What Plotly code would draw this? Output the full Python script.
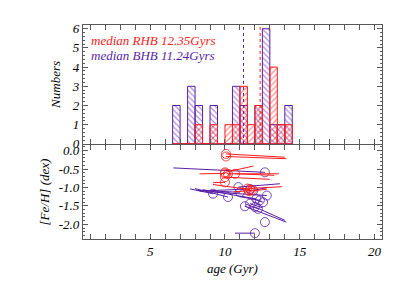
import plotly.graph_objects as go

# ---------------- data ----------------
bin_centers = [6.75, 7.25, 7.75, 8.25, 8.75, 9.25, 9.75, 10.25, 10.75, 11.25, 11.75,
               12.25, 12.75, 13.25, 13.75, 14.25]
rhb_counts = [0, 0, 0, 1, 0, 1, 0, 1, 1, 3, 1, 2, 0, 4, 1, 1]
bhb_counts = [2, 0, 3, 2, 0, 2, 0, 0, 3, 2, 0, 2, 6, 1, 1, 2]
median_rhb = 12.35
median_bhb = 11.24

# bottom panel: circle point and the end of its line
rhb_age = [10.07, 10.07, 10.0, 10.0, 10.2, 10.67, 10.0, 10.0, 11.5, 11.7, 11.6, 11.8]
rhb_feh = [-0.09, -0.16, -0.59, -0.62, -0.63, -0.63, -0.72, -0.86, -1.03, -1.06, -1.10, -1.08]
rhb_age_end = [14.0, 14.1, 11.9, 8.3, 13.6, 13.3, 13.0, 9.2, 13.8, 9.2, 12.8, 10.6]
rhb_feh_end = [-0.18, -0.22, -0.42, -0.63, -0.63, -0.67, -0.78, -0.87, -0.98, -0.92, -1.05, -1.12]

bhb_age = [12.67, 10.9, 9.2, 10.2, 11.0, 11.67, 11.9, 12.8, 12.1, 12.33, 12.55, 11.67,
           11.33, 12.0, 12.2, 12.67, 12.0]
bhb_feh = [-0.59, -0.99, -1.17, -1.26, -1.13, -1.04, -1.08, -1.22, -1.31, -1.35, -1.40, -1.44,
           -1.51, -1.53, -1.58, -1.94, -2.24]
bhb_age_end = [6.55, 13.67, 7.67, 8.0, 8.1, 8.3, 12.9, 9.0, 8.5, 11.0, 11.8, 12.5,
               14.1, 14.0, 11.4, 12.67, 10.67]
bhb_feh_end = [-0.47, -0.90, -1.04, -1.03, -1.08, -1.10, -1.00, -1.12, -1.06, -1.25, -1.30, -1.55,
               -1.94, -1.89, -1.45, -1.94, -2.24]

RED = "#ff1a1a"
PURPLE = "#5a1ea6"
AXC = "#5a5a5a"
FONT = "Times New Roman, Liberation Serif, serif"


def segs(x0, y0, x1, y1):
    xs, ys = [], []
    for a, b, c, d in zip(x0, y0, x1, y1):
        xs += [a, c, None]
        ys += [b, d, None]
    return xs, ys


fig = go.Figure()

# histogram bars
fig.add_trace(go.Bar(
    x=bin_centers, y=bhb_counts, width=0.5, xaxis="x", yaxis="y",
    marker=dict(color="rgba(0,0,0,0)", line=dict(color=PURPLE, width=1),
                pattern=dict(shape="\\", fgcolor=PURPLE, bgcolor="rgba(0,0,0,0)",
                             size=4, solidity=0.3)),
    showlegend=False))
fig.add_trace(go.Bar(
    x=bin_centers, y=rhb_counts, width=0.5, xaxis="x", yaxis="y",
    marker=dict(color="rgba(0,0,0,0)", line=dict(color=RED, width=1),
                pattern=dict(shape="/", fgcolor=RED, bgcolor="rgba(0,0,0,0)",
                             size=4, solidity=0.3)),
    showlegend=False))

# bottom panel lines + circles
xs, ys = segs(bhb_age, bhb_feh, bhb_age_end, bhb_feh_end)
fig.add_trace(go.Scatter(x=xs, y=ys, mode="lines", line=dict(color=PURPLE, width=1),
                         xaxis="x2", yaxis="y2", showlegend=False))
fig.add_trace(go.Scatter(x=bhb_age, y=bhb_feh, mode="markers",
                         marker=dict(symbol="circle-open", size=9, color=PURPLE, line=dict(width=0.8)),
                         xaxis="x2", yaxis="y2", showlegend=False))
xs, ys = segs(rhb_age, rhb_feh, rhb_age_end, rhb_feh_end)
fig.add_trace(go.Scatter(x=xs, y=ys, mode="lines", line=dict(color=RED, width=1),
                         xaxis="x2", yaxis="y2", showlegend=False))
fig.add_trace(go.Scatter(x=rhb_age, y=rhb_feh, mode="markers",
                         marker=dict(symbol="circle-open", size=9, color=RED, line=dict(width=0.8)),
                         xaxis="x2", yaxis="y2", showlegend=False))

tickfont = dict(family=FONT, size=13, color="black", style="italic")
xvals = list(range(1, 21))
xtext = [str(v) if v % 5 == 0 else "" for v in xvals]

common_x = dict(range=[0.5, 20.5], domain=[0.184, 0.919], showline=True, linecolor=AXC,
                linewidth=1, mirror="allticks", ticks="inside", ticklen=5, tickcolor=AXC,
                tickmode="array", tickvals=xvals, showgrid=False, zeroline=False,
                automargin=False)

fig.update_layout(
    width=407, height=291,
    margin=dict(l=0, r=0, t=0, b=0),
    paper_bgcolor="white", plot_bgcolor="white",
    barmode="overlay",
    font=dict(family=FONT),
    xaxis=dict(**common_x, anchor="y", showticklabels=False),
    yaxis=dict(domain=[0.533, 0.942], range=[0, 6.2], anchor="x", showline=True,
               linecolor=AXC, mirror="allticks", ticks="inside", ticklen=5, tickcolor=AXC,
               tickmode="array", tickvals=[0, 1, 2, 3, 4, 5, 6],
               minor=dict(ticks="inside", ticklen=2, dtick=0.2, tickcolor=AXC),
               showgrid=False, zeroline=False, tickfont=tickfont, automargin=False,
               title=dict(text="Numbers", font=tickfont, standoff=8)),
    xaxis2=dict(**common_x, anchor="y2", ticktext=xtext, tickfont=tickfont,
                title=dict(text="age (Gyr)", font=tickfont, standoff=6)),
    yaxis2=dict(domain=[0.206, 0.529], range=[-2.4, 0.15], anchor="x2", showline=True,
                linecolor=AXC, mirror="allticks", ticks="inside", ticklen=5, tickcolor=AXC,
                tickmode="array", tickvals=[0.0, -0.5, -1.0, -1.5, -2.0],
                ticktext=["0.0", "-0.5", "-1.0", "-1.5", "-2.0"],
                minor=dict(ticks="inside", ticklen=2, dtick=0.1, tickcolor=AXC),
                showgrid=False, zeroline=False, tickfont=tickfont, automargin=False,
                title=dict(text="[Fe/H] (dex)", font=tickfont, standoff=6)),
    shapes=[
        dict(type="line", xref="x", yref="y domain", x0=median_bhb, x1=median_bhb, y0=0, y1=1,
             line=dict(color=PURPLE, width=1, dash="dot")),
        dict(type="line", xref="x", yref="y domain", x0=median_rhb, x1=median_rhb, y0=0, y1=1,
             line=dict(color=RED, width=1, dash="dot")),
    ],
    annotations=[
        dict(text=f"median RHB {median_rhb}Gyrs", xref="paper", yref="paper",
             x=0.199, y=0.887, xanchor="left", yanchor="middle", showarrow=False,
             font=dict(family=FONT, size=13, color=RED, style="italic")),
        dict(text=f"median BHB {median_bhb}Gyrs", xref="paper", yref="paper",
             x=0.199, y=0.838, xanchor="left", yanchor="middle", showarrow=False,
             font=dict(family=FONT, size=13, color=PURPLE, style="italic")),
    ],
)

fig.write_html("out.html")
